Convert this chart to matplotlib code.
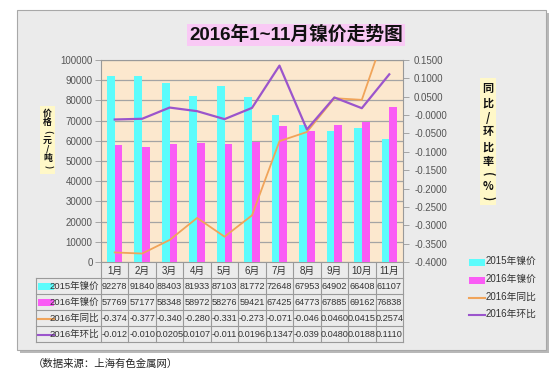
import numpy as np
import matplotlib
matplotlib.use("Agg")
import matplotlib.pyplot as plt
from matplotlib.patches import Rectangle

plt.rcParams['font.family'] = ['Liberation Sans', 'Noto Sans CJK SC', 'DejaVu Sans']

months = ['1月', '2月', '3月', '4月', '5月', '6月', '7月', '8月', '9月', '10月', '11月']
price_2015 = [92278, 91840, 88403, 81933, 87103, 81772, 72648, 67953, 64902, 66408, 61107]
price_2016 = [57769, 57177, 58348, 58972, 58276, 59421, 67425, 64773, 67885, 69162, 76838]
yoy_2016 = [-0.374, -0.377, -0.340, -0.280, -0.331, -0.273, -0.071, -0.046, 0.0460, 0.0415, 0.2574]
mom_2016 = [-0.012, -0.010, 0.0205, 0.0107, -0.011, 0.0196, 0.1347, -0.039, 0.0480, 0.0188, 0.1110]
yoy_text = ['-0.374', '-0.377', '-0.340', '-0.280', '-0.331', '-0.273', '-0.071', '-0.046', '0.0460', '0.0415', '0.2574']
mom_text = ['-0.012', '-0.010', '0.0205', '0.0107', '-0.011', '0.0196', '0.1347', '-0.039', '0.0480', '0.0188', '0.1110']
series_names = ['2015年镍价', '2016年镍价', '2016年同比', '2016年环比']
title = '2016年1~11月镍价走势图'
source = '（数据来源：上海有色金属网）'

C_CYAN = '#5CFCFC'
C_MAG = '#FA5CF5'
C_ORANGE = '#F0A45A'
C_PURPLE = '#9B55CC'
BG = '#EBEBEB'
PEACH = '#FCE8CE'
GRID = '#A4A4A4'

W, H = 558, 382
fig = plt.figure(figsize=(W / 100, H / 100), dpi=100)
fig.patch.set_facecolor('white')

bg = fig.add_axes([0, 0, 1, 1])
bg.set_xlim(0, W)
bg.set_ylim(H, 0)
bg.axis('off')
bg.set_zorder(0)

bg.add_patch(Rectangle((20, 13), 529, 340, facecolor='#B8B8B8', edgecolor='none'))
bg.add_patch(Rectangle((17, 10), 529, 340, facecolor=BG, edgecolor='#A8A8A8', lw=0.8))

L, R, T, B = 101, 403, 60, 262
ax = fig.add_axes([L / W, 1 - B / H, (R - L) / W, (B - T) / H])
ax.set_zorder(1)
ax.set_facecolor(PEACH)
x = np.arange(len(months))
bw = 0.28
ax.bar(x - bw / 2, price_2015, width=bw, color=C_CYAN, zorder=3)
ax.bar(x + bw / 2, price_2016, width=bw, color=C_MAG, zorder=3)
ax.set_xlim(-0.5, len(months) - 0.5)
ax.set_ylim(0, 100000)
ax.set_yticks(np.arange(0, 100001, 10000))
ax.yaxis.grid(True, color=GRID, lw=0.9, zorder=1)
ax.set_axisbelow(True)
ax.set_xticks([])
ax.tick_params(axis='y', labelsize=7, colors='#999999', length=4, width=0.6, pad=2, labelcolor='#555555')
for s in ax.spines.values():
    s.set_color('#999999')
    s.set_linewidth(0.8)

ax2 = ax.twinx()
ax2.set_zorder(2)
ax2.plot(x, yoy_2016, color=C_ORANGE, lw=1.3, zorder=4)
ax2.plot(x, mom_2016, color=C_PURPLE, lw=1.6, zorder=5)
ax2.set_ylim(-0.4, 0.15)
rt = np.round(np.arange(-0.4, 0.1501, 0.05), 2)
ax2.set_yticks(rt)
ax2.set_yticklabels([f'{v:.4f}' for v in rt])
ax2.tick_params(axis='y', labelsize=7, colors='#999999', length=4, width=0.6, pad=4, labelcolor='#555555')
for s in ax2.spines.values():
    s.set_visible(False)

fig.text(296 / W, 1 - 35 / H, title, ha='center', va='center', fontsize=13.5, fontweight='bold',
         color='#111111', bbox=dict(boxstyle='square,pad=0.12', facecolor='#F9C9F5', edgecolor='none'))

CJK = ['Noto Sans CJK SC', 'DejaVu Sans']


def vchar(cx, cy, ch, fs):
    rot = -90 if ch in '()' else 0
    bg.text(cx, cy, ch, ha='center', va='center', fontsize=fs, fontweight='bold', color='#111111',
            rotation=rot, rotation_mode='anchor', family=CJK)


bg.add_patch(Rectangle((40, 106), 15, 68, facecolor='#FFF8C8', edgecolor='none'))
left_chars = ['价', '格', '(', '元', '/', '吨', ')']
left_y = [113, 123, 131.5, 140, 149, 158, 166.5]
for ch, yy in zip(left_chars, left_y):
    vchar(47.5, yy, ch, 6.4)

bg.add_patch(Rectangle((480, 78), 16, 127, facecolor='#FFF8C8', edgecolor='none'))
right_chars = ['同', '比', '/', '环', '比', '率', '(', '%', ')']
right_y = [88, 103, 118, 132, 147, 162, 174, 186, 198]
for ch, yy in zip(right_chars, right_y):
    vchar(488, yy, ch, 8)

n = len(months)
cw = (R - L) / n
rows_y = [B, 278, 294, 310, 326, 342]
lc = '#9A9A9A'
for yy in rows_y[1:]:
    bg.plot([36, R], [yy, yy], color=lc, lw=0.8)
bg.plot([36, 36], [rows_y[1], rows_y[-1]], color=lc, lw=0.8)
for k in range(n + 1):
    bg.plot([L + k * cw, L + k * cw], [B, rows_y[-1]], color=lc, lw=0.8)
for i, m in enumerate(months):
    bg.text(L + (i + 0.5) * cw, (rows_y[0] + rows_y[1]) / 2 + 1, m, ha='center', va='center',
            fontsize=7, color='#333333')
table_rows = [[str(v) for v in price_2015], [str(v) for v in price_2016], yoy_text, mom_text]
for r, vals in enumerate(table_rows):
    yc = (rows_y[r + 1] + rows_y[r + 2]) / 2 + 0.5
    for i, v in enumerate(vals):
        bg.text(L + (i + 0.5) * cw, yc, v, ha='center', va='center', fontsize=6.6, color='#333333')
    bg.text(99, yc, series_names[r], ha='right', va='center', fontsize=6.8, color='#333333')
    if r == 0:
        bg.add_patch(Rectangle((38, yc - 3.5), 16, 7, facecolor=C_CYAN, edgecolor='none'))
    elif r == 1:
        bg.add_patch(Rectangle((38, yc - 3.5), 16, 7, facecolor=C_MAG, edgecolor='none'))
    elif r == 2:
        bg.plot([38, 54], [yc, yc], color=C_ORANGE, lw=1.5)
    else:
        bg.plot([38, 54], [yc, yc], color=C_PURPLE, lw=1.5)

leg_y = [262, 280, 298, 315]
for r, yy in enumerate(leg_y):
    if r == 0:
        bg.add_patch(Rectangle((469, yy - 3.5), 16, 7, facecolor=C_CYAN, edgecolor='none'))
    elif r == 1:
        bg.add_patch(Rectangle((469, yy - 3.5), 16, 7, facecolor=C_MAG, edgecolor='none'))
    elif r == 2:
        bg.plot([469, 485], [yy, yy], color=C_ORANGE, lw=1.5)
    else:
        bg.plot([469, 485], [yy, yy], color=C_PURPLE, lw=1.5)
    bg.text(486, yy - 1, series_names[r], ha='left', va='center', fontsize=7, color='#333333')

bg.text(33, 364, source, ha='left', va='center', fontsize=7.5, color='#222222')

fig.savefig('out.png', dpi=100, facecolor='white')
